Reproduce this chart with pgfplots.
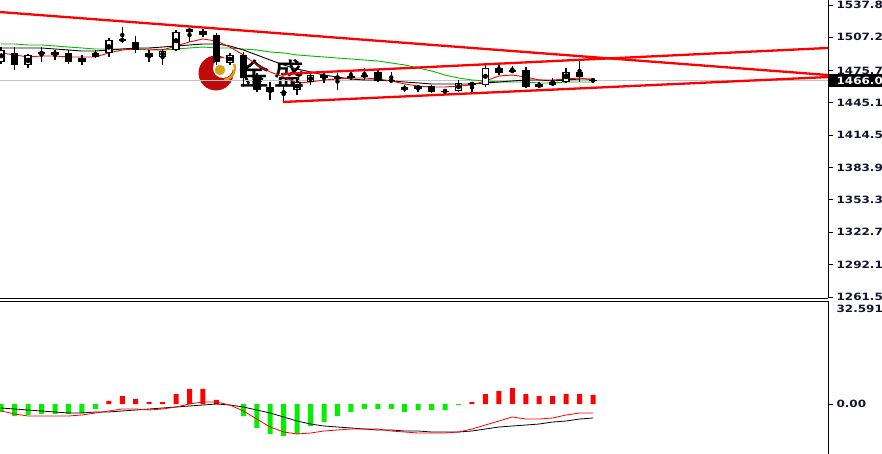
\documentclass[border=0pt]{standalone}
\usepackage{pgfplots}
\usepackage{pgfplotstable}
\pgfplotsset{compat=1.18}
\usepackage{fontspec}
\setmainfont{DejaVu Sans}
\newfontfamily\tickfont[FakeStretch=1.2]{DejaVu Sans}
\newfontfamily\cjk[FakeBold=1.2]{Noto Sans CJK SC}
\definecolor{lbl}{RGB}{20,20,45}
\definecolor{magreen}{RGB}{0,185,0}
\definecolor{histgreen}{RGB}{0,240,0}
\definecolor{pricegray}{RGB}{195,195,195}
\definecolor{logored}{RGB}{190,10,10}
\definecolor{logogold}{RGB}{215,165,20}

\pgfplotstableread{
i o h l c r k g hp hn mr mk
0 1483.8 1498.0 1481.9 1495.2 1492.4 1497.1 1500.9 nan -2.53 -2.21 -1.27
1 1492.4 1498.0 1476.3 1481.0 1490.5 1497.1 1500.9 nan -3.80 -3.16 -1.58
2 1481.0 1491.4 1478.2 1490.5 1488.6 1497.1 1499.9 nan -3.48 -3.80 -1.90
3 1491.4 1498.0 1483.8 1493.3 1489.5 1497.1 1499.9 nan -3.16 -3.80 -2.21
4 1493.3 1495.2 1485.7 1490.5 1489.5 1496.1 1499.0 nan -3.16 -3.80 -2.53
5 1492.4 1495.2 1481.9 1483.8 1488.6 1495.2 1498.0 nan -3.16 -3.80 -2.85
6 1483.8 1490.5 1481.0 1487.6 1488.6 1494.2 1497.1 nan -2.85 -3.48 -2.85
7 1488.6 1495.2 1487.6 1492.4 1488.6 1494.2 1496.1 nan -1.58 -2.85 -2.53
8 1492.4 1506.5 1488.6 1504.7 1492.4 1495.2 1496.1 0.95 nan -2.21 -2.53
9 1505.6 1517.0 1501.8 1503.7 1495.2 1496.1 1496.1 2.53 nan -1.58 -2.21
10 1502.8 1508.4 1492.4 1495.2 1496.1 1497.1 1496.1 1.58 nan -1.58 -1.90
11 1492.4 1495.2 1483.8 1488.6 1496.1 1497.1 1495.2 0.63 nan -1.90 -1.58
12 1488.6 1496.1 1481.0 1494.2 1495.2 1498.0 1495.2 0.63 nan -1.58 -1.27
13 1495.2 1514.1 1494.5 1512.2 1499.0 1499.0 1496.1 3.16 nan -0.95 -0.95
14 1512.2 1516.0 1502.8 1515.1 1502.8 1499.9 1497.1 4.75 nan 0.00 -0.63
15 1513.2 1515.1 1507.5 1509.4 1505.6 1500.9 1498.0 4.75 nan 0.63 -0.32
16 1509.4 1511.3 1481.0 1483.8 1503.7 1500.9 1497.1 1.27 nan 0.63 0.00
17 1482.9 1492.4 1481.0 1490.5 1498.0 1499.0 1497.1 nan nan -0.32 -0.32
18 1490.5 1493.3 1460.2 1468.7 1490.5 1495.2 1496.1 nan -3.80 -2.21 -0.95
19 1470.6 1473.4 1455.5 1457.3 1481.0 1490.5 1495.2 nan -7.59 -4.75 -1.90
20 1460.2 1464.9 1447.9 1455.5 1474.4 1485.7 1493.3 nan -9.49 -7.28 -2.85
21 1455.5 1461.1 1446.0 1454.5 1469.6 1481.0 1492.4 nan -10.12 -8.86 -4.11
22 1457.3 1468.7 1452.6 1464.9 1464.0 1477.2 1490.5 nan -9.49 -9.49 -5.38
23 1464.9 1473.4 1462.1 1471.5 1464.9 1474.4 1489.5 nan -6.96 -9.18 -6.33
24 1471.5 1473.4 1464.0 1468.7 1466.8 1471.5 1488.6 nan -5.70 -8.54 -6.96
25 1468.7 1473.4 1457.3 1469.6 1467.7 1469.6 1487.6 nan -3.80 -8.23 -7.28
26 1469.6 1476.3 1466.8 1470.6 1468.7 1467.7 1486.7 nan -2.53 -7.91 -7.59
27 1471.5 1478.2 1466.8 1470.6 1468.7 1466.8 1485.7 nan -1.58 -7.91 -7.91
28 1474.4 1476.3 1464.9 1465.9 1467.7 1466.8 1484.8 nan -1.58 -7.91 -8.23
29 1466.8 1474.4 1464.0 1465.9 1465.9 1465.9 1482.9 nan -1.58 -8.54 -8.23
30 1460.2 1462.1 1455.5 1457.3 1463.0 1464.9 1481.0 nan -2.53 -8.86 -8.54
31 1458.3 1462.1 1455.5 1461.1 1461.1 1464.0 1478.2 nan -1.90 -9.18 -8.54
32 1461.1 1462.1 1454.5 1455.5 1460.2 1463.0 1475.3 nan -1.90 -9.18 -8.86
33 1456.4 1458.3 1454.5 1455.5 1460.2 1463.0 1471.5 nan -1.90 -9.18 -8.86
34 1456.4 1466.8 1455.5 1464.0 1461.1 1463.0 1468.7 nan -0.32 -8.86 -8.86
35 1464.0 1464.9 1454.5 1462.1 1462.1 1463.0 1466.8 0.63 nan -7.91 -8.54
36 1462.1 1481.0 1460.2 1478.2 1465.9 1464.0 1465.9 3.16 nan -6.65 -7.91
37 1478.2 1482.9 1471.5 1473.4 1470.6 1464.9 1464.9 4.11 nan -5.38 -7.28
38 1474.4 1480.0 1473.4 1476.3 1471.5 1465.9 1464.9 5.06 nan -4.11 -6.96
39 1476.3 1479.1 1459.2 1460.2 1469.6 1466.8 1464.9 3.16 nan -4.75 -6.65
40 1460.2 1464.9 1459.2 1463.0 1466.8 1466.8 1464.0 2.53 nan -4.75 -6.33
41 1462.1 1468.7 1461.1 1464.9 1466.8 1465.9 1464.0 2.53 nan -4.43 -5.70
42 1464.9 1478.2 1464.0 1474.4 1467.7 1466.8 1464.9 3.16 nan -3.48 -5.38
43 1474.4 1485.7 1464.9 1469.6 1468.7 1467.7 1464.9 3.16 nan -2.85 -4.75
44 1467.0 1468.7 1464.0 1466.0 1466.8 1467.7 1464.9 2.85 nan -2.85 -4.43
}\data

\begin{document}
\begin{tikzpicture}
\useasboundingbox (0,0) rectangle (882pt,454pt);

% logo (watermark)
\fill[logored] (216pt,381pt) circle (17.5pt);
\fill[white] (223pt,386pt) circle (10pt);
\draw[logogold, line width=2.4pt] (223pt,386pt) ++(-85:12pt) arc (-85:20:12pt);
\fill[logogold] (220pt,384pt) circle (5.2pt);
\node[text=black, inner sep=0pt] at (254pt,381pt) {\cjk\fontsize{30pt}{30pt}\selectfont 金};
\node[text=black, inner sep=0pt] at (289pt,381pt) {\cjk\fontsize{30pt}{30pt}\selectfont 盛};

% ---------------- main price panel ----------------
\begin{axis}[
  at={(0pt,156pt)}, anchor=south west,
  width=828pt, height=298pt, scale only axis,
  xmin=-0.09, xmax=61.47, ymin=1260.53, ymax=1542.5,
  axis x line*=bottom, axis y line*=right,
  axis line style={-, black, line width=0.9pt},
  xtick=\empty,
  ytick={1537.8,1507.2,1475.7,1445.1,1414.5,1383.9,1353.3,1322.7,1292.1,1261.5},
  yticklabels={1537.8,1507.2,1475.7,1445.1,1414.5,1383.9,1353.3,1322.7,1292.1,1261.5},
  tick align=outside, major tick length=5pt,
  tick style={black, line width=0.9pt},
  yticklabel style={font=\tickfont\bfseries\fontsize{10}{10}\selectfont, text=lbl},
]
\addplot[pricegray, line width=0.8pt, mark=none] coordinates {(-0.09,1466.0) (61.47,1466.0)};
\addplot[magreen, line width=0.9pt, mark=none] table[x=i, y=g] {\data};
\addplot[black, line width=0.9pt, mark=none] table[x=i, y=k] {\data};
\addplot[red, line width=0.9pt, mark=none] table[x=i, y=r] {\data};
% wicks
\addplot[only marks, mark=none,
  error bars/.cd, y dir=both, y explicit, error mark=none,
  error bar style={line width=1.5pt, black}]
  table[x=i, y expr={(\thisrow{h}+\thisrow{l})/2}, y error expr={(\thisrow{h}-\thisrow{l})/2}] {\data};
% bodies
\addplot[only marks, mark=none,
  error bars/.cd, y dir=both, y explicit, error mark=none,
  error bar style={line width=7.5pt, black}]
  table[x=i, y expr={(\thisrow{o}+\thisrow{c})/2}, y error expr={max(abs(\thisrow{o}-\thisrow{c})/2,0.6)}] {\data};
% hollow interiors (bullish)
\addplot[only marks, mark=none,
  error bars/.cd, y dir=both, y explicit, error mark=none,
  error bar style={line width=4.5pt, white}]
  table[x=i, y expr={(\thisrow{o}+\thisrow{c})/2}, y error expr={max((\thisrow{c}-\thisrow{o})/2-1.3,0)}] {\data};
% trend lines
\addplot[red, line width=2.3pt, mark=none] coordinates {(-0.09,1531.1) (61.47,1471.5)};
\addplot[red, line width=2.3pt, mark=none] coordinates {(20.95,1472.5) (61.47,1497.1)};
\addplot[red, line width=2.3pt, mark=none] coordinates {(20.95,1446.0) (61.47,1469.6)};
\end{axis}

% ---------------- MACD panel ----------------
\begin{axis}[
  at={(0pt,0pt)}, anchor=south west,
  width=828pt, height=153pt, scale only axis,
  xmin=-0.09, xmax=61.47, ymin=-15.82, ymax=32.591,
  axis x line*=top, axis y line*=right,
  axis line style={-, black, line width=0.9pt},
  xtick=\empty,
  ytick={0}, yticklabels={0.00},
  tick align=outside, major tick length=5pt,
  tick style={black, line width=0.9pt},
  yticklabel style={font=\tickfont\bfseries\fontsize{10}{10}\selectfont, text=lbl},
]
\addplot[ybar, bar width=5pt, bar shift=0pt, fill=red, draw=none] table[x=i, y=hp] {\data};
\addplot[ybar, bar width=5pt, bar shift=0pt, fill=histgreen, draw=none] table[x=i, y=hn] {\data};
\addplot[black, line width=0.8pt, mark=none] table[x=i, y=mk] {\data};
\addplot[red, line width=0.8pt, mark=none] table[x=i, y=mr] {\data};
\end{axis}

\node[anchor=west, font=\tickfont\bfseries\fontsize{10}{10}\selectfont, text=lbl] at (833pt,145pt) {32.591};

% current price box
\fill[black] (829pt,367pt) rectangle (884pt,380pt);
\node[anchor=west, font=\tickfont\bfseries\fontsize{10}{10}\selectfont, text=white] at (833pt,373.5pt) {1466.0};
\end{tikzpicture}
\end{document}
